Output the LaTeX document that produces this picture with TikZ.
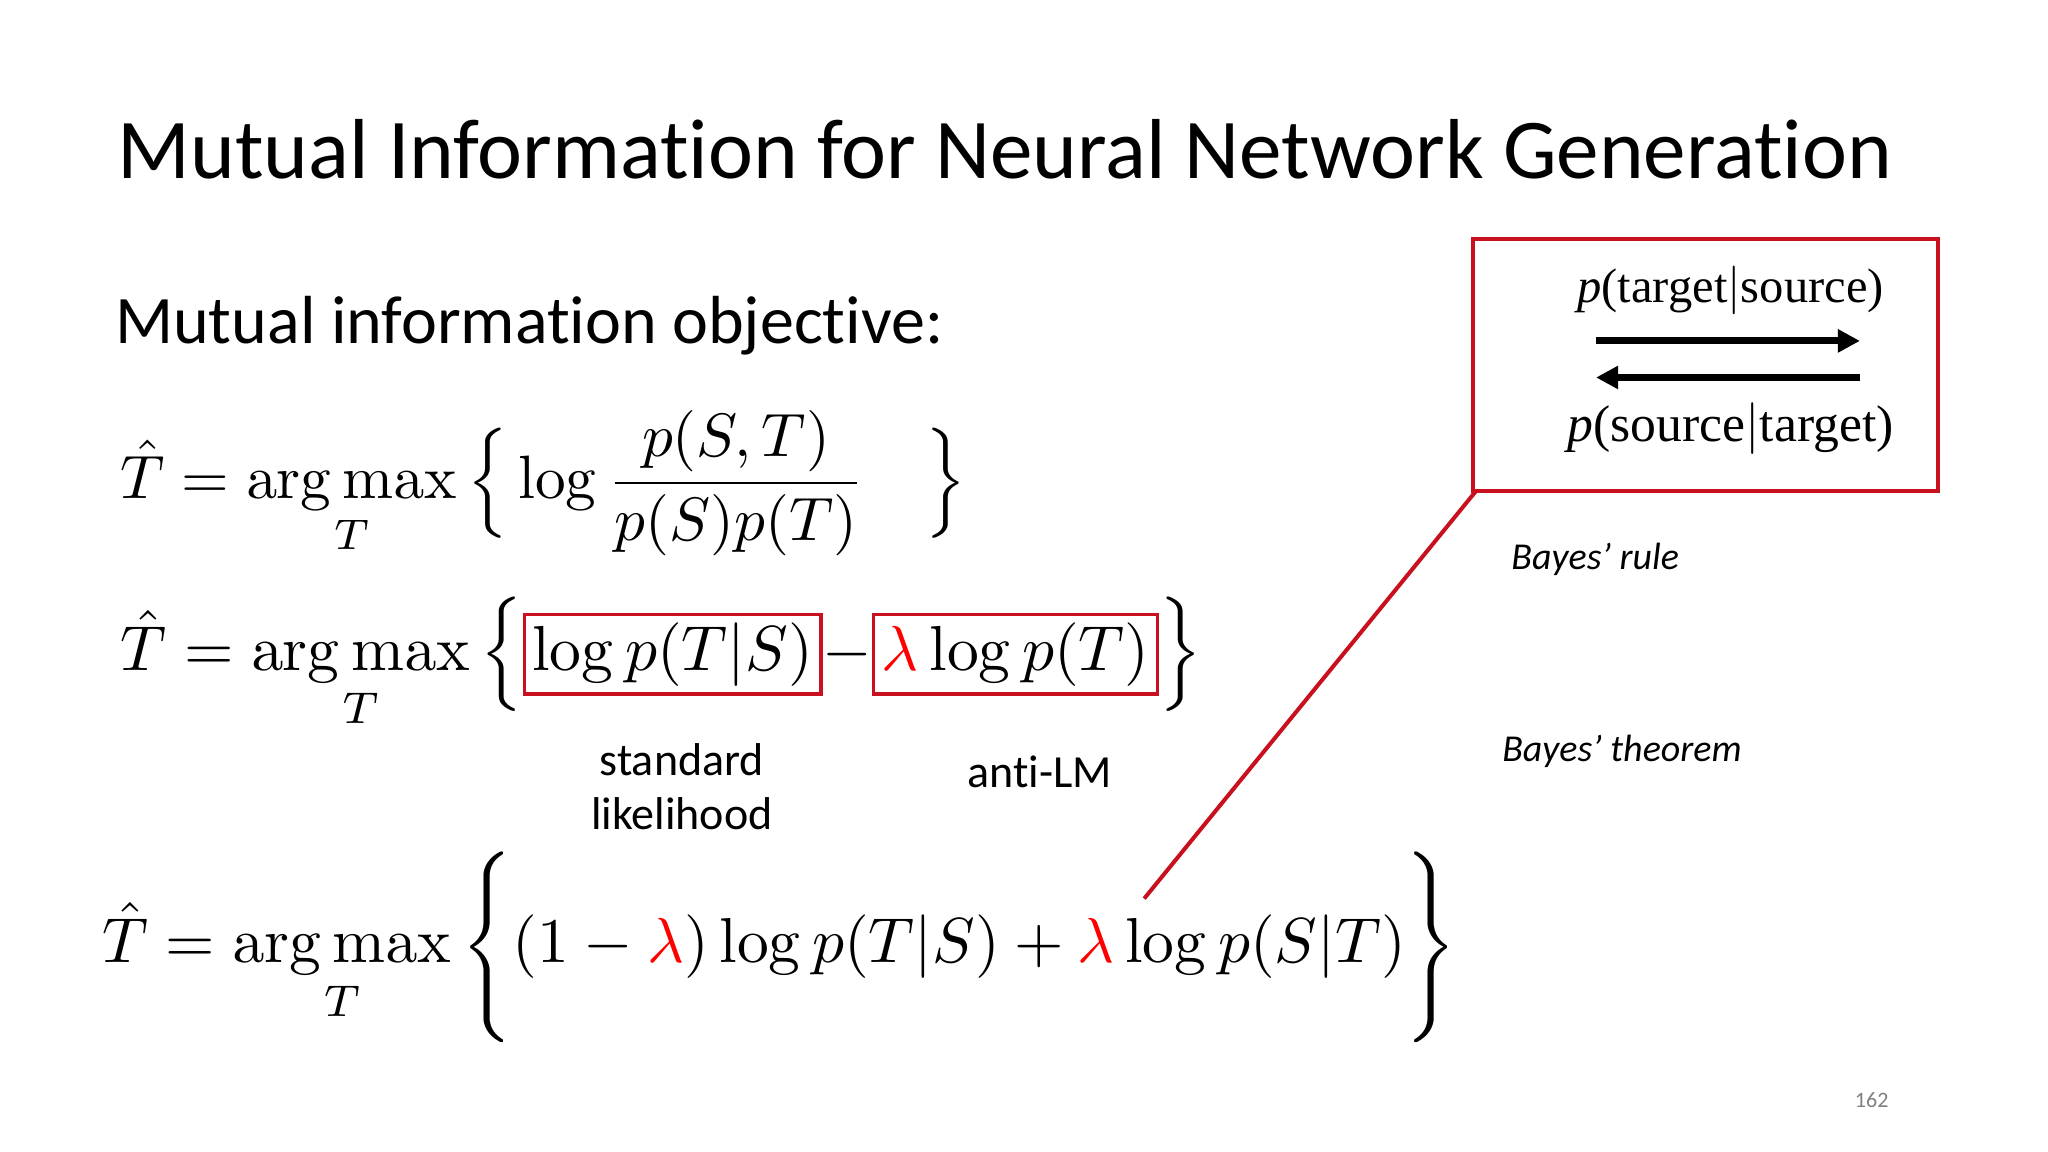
\documentclass[tikz,border=0pt]{standalone}
\usepackage[no-math]{fontspec}
\setmainfont{Carlito}[Ligatures={NoCommon,NoRare}]
\newfontfamily\tnr{Liberation Serif}
\usepackage{amsmath}
\usetikzlibrary{arrows.meta}
\definecolor{myred}{RGB}{200,16,30}
\begin{document}
\begin{tikzpicture}[x=1.306pt,y=-1.306pt,
  lbl/.style={font=\fontsize{46}{54}\selectfont,align=center,inner sep=0},
  bayes/.style={font=\fontsize{38}{44}\selectfont\itshape,anchor=west,inner sep=0},
  arr/.style={line width=7pt,-{Triangle[length=22pt,width=22pt]}}]
\useasboundingbox (0,0) rectangle (1568,882);
\fill[white] (0,0) rectangle (1568,882);
\node[anchor=west,inner sep=0] (title) at (90,114) {\resizebox{1773pt}{!}{Mutual Information for Neural Network Generation}};
\node[anchor=west,inner sep=0] (sub) at (88,249) {\resizebox{828pt}{!}{Mutual information objective:}};
\node[anchor=west,inner sep=0] (eq1) at (92,370) {\resizebox{846pt}{!}{$\hat{T}=\mathop{\arg\max}\limits_{T}\Big\{\log\dfrac{p(S,T)}{p(S)p(T)}\quad\Big\}$}};
\node[anchor=west,inner sep=0] (eq2) at (92,508) {\resizebox{1081pt}{!}{\setlength{\fboxsep}{1pt}\setlength{\fboxrule}{0.5pt}$\hat{T}=\mathop{\arg\max}\limits_{T}\Big\{\fcolorbox{myred}{white}{$\log p(T|S)$}{-}\fcolorbox{myred}{white}{$\textcolor{red}{\lambda}\log p(T)$}\Big\}$}};
\node[lbl] (std) at (522,602) {standard\\likelihood};
\node[lbl] (alm) at (796,591) {anti-LM};
\node[anchor=west,inner sep=0] (eq3) at (78,725) {\resizebox{1354pt}{!}{$\hat{T}=\mathop{\arg\max}\limits_{T}\Bigg\{(1-\textcolor{red}{\lambda})\log p(T|S)+\textcolor{red}{\lambda}\log p(S|T)\Bigg\}$}};
\draw[myred,line width=4pt] (1128,183) rectangle (1484,376);
\node[inner sep=0] (pts) at (1325,222) {\resizebox{306pt}{!}{\tnr\textit{p}(target$|$source)}};
\node[inner sep=0] (pst) at (1325,328) {\resizebox{326pt}{!}{\tnr\textit{p}(source$|$target)}};
\coordinate (a1) at (1222,261); \coordinate (b1) at (1424,261);
\coordinate (a2) at (1424,289); \coordinate (b2) at (1222,289);
\draw[arr] (a1) -- (b1);
\draw[arr] (a2) -- (b2);
\coordinate (c1) at (1130,376); \coordinate (c2) at (876,688);
\draw[myred,line width=4pt] (c1) -- (c2);
\node[bayes] (br) at (1157,428) {Bayes’ rule};
\node[bayes] (bt) at (1150,575) {Bayes’ theorem};
\node[font=\fontsize{22}{26}\selectfont,text=gray,inner sep=0] (pg) at (1433,842) {162};
\end{tikzpicture}
\end{document}
